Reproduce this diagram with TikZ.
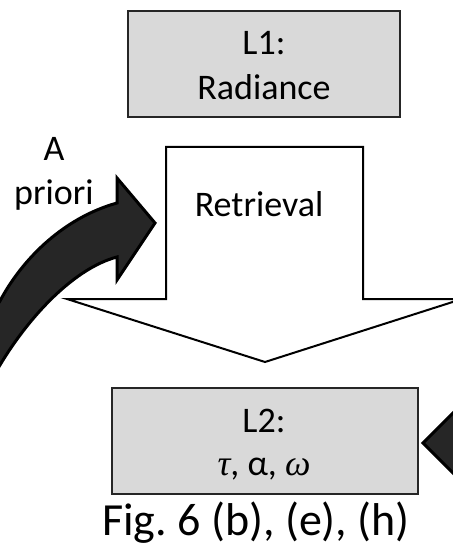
\documentclass[tikz,border=0pt]{standalone}
\usepackage{fontspec}
\setmainfont{Carlito}
\newfontfamily\grkserif{Liberation Serif}
\definecolor{boxgray}{HTML}{D9D9D9}
\definecolor{darkfill}{HTML}{262626}
\frenchspacing
\begin{document}
\begin{tikzpicture}[x=1bp,y=-1bp,
  boxstyle/.style={draw=black!85, line width=1.6bp, fill=boxgray, inner sep=0pt},
  bigarrow/.style={draw=black, line width=2bp, fill=white, line join=miter},
  darkarrow/.style={draw=black, line width=3bp, fill=darkfill, line join=miter},
  txt/.style={anchor=base, inner sep=0pt, font=\fontsize{36bp}{44bp}\selectfont},
  captxt/.style={anchor=base, inner sep=0pt, font=\fontsize{46bp}{54bp}\selectfont}]
\useasboundingbox (0,0) rectangle (453,549);
\clip (0,0) rectangle (453,549);
% curved "a priori" arrow
\draw[darkarrow] (-20,330) -- (0,301) .. controls (20,263) and (60,219) .. (117,203)
  -- (117,178) -- (155,223) -- (117,280) -- (117,257)
  .. controls (75,268) and (30,315) .. (0,365) -- (-20,397) -- cycle;
% big retrieval arrow
\draw[bigarrow] (166,147) -- (363,147) -- (363,299) -- (462,299) -- (265,362)
  -- (67,299) -- (166,299) -- cycle;
% right dark arrow head
\draw[darkarrow] (423,443) -- (463,403) -- (463,483) -- cycle;
% boxes
\node[boxstyle, minimum width=272bp, minimum height=106bp] (l1) at (264,64) {};
\node[boxstyle, minimum width=306bp, minimum height=106bp] (l2) at (265,441) {};
% texts
\node[txt] (l1a) at (264,55) {L1:};
\node[txt] (l1b) at (264,100) {Radiance};
\node[txt] (ret) at (259,217) {Retrieval};
\node[txt] (aa) at (54,161) {A};
\node[txt] (pri) at (54,205) {priori};
\node[txt] (l2a) at (264,432) {L2:};
\node[txt] (l2b) at (264,475) {{\grkserif\itshape τ}, α, {\grkserif\itshape ω}};
\node[captxt] (cap) at (256,535) {Fig. 6 (b), (e), (h)};
\end{tikzpicture}
\end{document}
